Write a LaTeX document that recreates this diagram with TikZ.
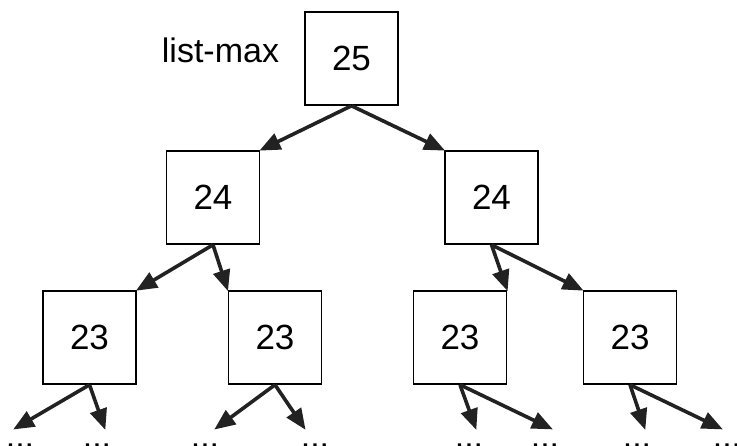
\documentclass[tikz,border=0pt]{standalone}
\usepackage{fontspec}
\setmainfont{Liberation Sans}
\usetikzlibrary{arrows.meta}
\definecolor{ink}{HTML}{222222}
\tikzset{
  box/.style={draw=black, line width=1.6pt, minimum width=93pt, minimum height=93pt,
              inner sep=0pt, font=\fontsize{35}{40}\selectfont},
  link/.style={draw=ink, line width=3.6pt, -{Triangle[length=21pt,width=17pt]}, shorten >=-1pt},
  more/.style={anchor=base, inner sep=0pt, font=\fontsize{34}{40}\selectfont}
}
\begin{document}
\begin{tikzpicture}[x=1pt, y=-1pt]
\useasboundingbox (0,0) rectangle (737,446);
% tree nodes
\node[box] (r)  at (351.5,58.5)  {25};
\node[font=\fontsize{34}{40}\selectfont, anchor=base] (lbl) at (220.5,63) {list-max};
\node[box] (l)  at (213,197.5)   {24};
\node[box] (rr) at (491.5,197.5) {24};
\node[box] (a)  at (89.5,337.5)  {23};
\node[box] (b)  at (275,337.5)   {23};
\node[box] (c)  at (460,337.5)   {23};
\node[box] (d)  at (630,337.5)   {23};
% continuation marks below the last row
\node[more] (da1) at (20,447.5)  {...};
\node[more] (da2) at (97,447.5)  {...};
\node[more] (db1) at (205,447.5) {...};
\node[more] (db2) at (315,447.5) {...};
\node[more] (dc1) at (469,447.5) {...};
\node[more] (dc2) at (545,447.5) {...};
\node[more] (dd1) at (637,447.5) {...};
\node[more] (dd2) at (727,447.5) {...};
% arrow ends
\coordinate (ta1) at (14,429);
\coordinate (ta2) at (105,429);
\coordinate (tb1) at (215,429);
\coordinate (tb2) at (305,429);
\coordinate (tc1) at (476,429);
\coordinate (tc2) at (552,429);
\coordinate (td1) at (645,429);
\coordinate (td2) at (722,429);
% edges
\draw[link] (r.south) -- (l.north east);
\draw[link] (r.south) -- (rr.north west);
\draw[link] (l.south) -- (a.north east);
\draw[link] (l.south) -- (b.north west);
\draw[link] (rr.south) -- (c.north east);
\draw[link] (rr.south) -- (d.north west);
\draw[link] (a.south) -- (ta1);
\draw[link] (a.south) -- (ta2);
\draw[link] (b.south) -- (tb1);
\draw[link] (b.south) -- (tb2);
\draw[link] (c.south) -- (tc1);
\draw[link] (c.south) -- (tc2);
\draw[link] (d.south) -- (td1);
\draw[link] (d.south) -- (td2);
\end{tikzpicture}
\end{document}
